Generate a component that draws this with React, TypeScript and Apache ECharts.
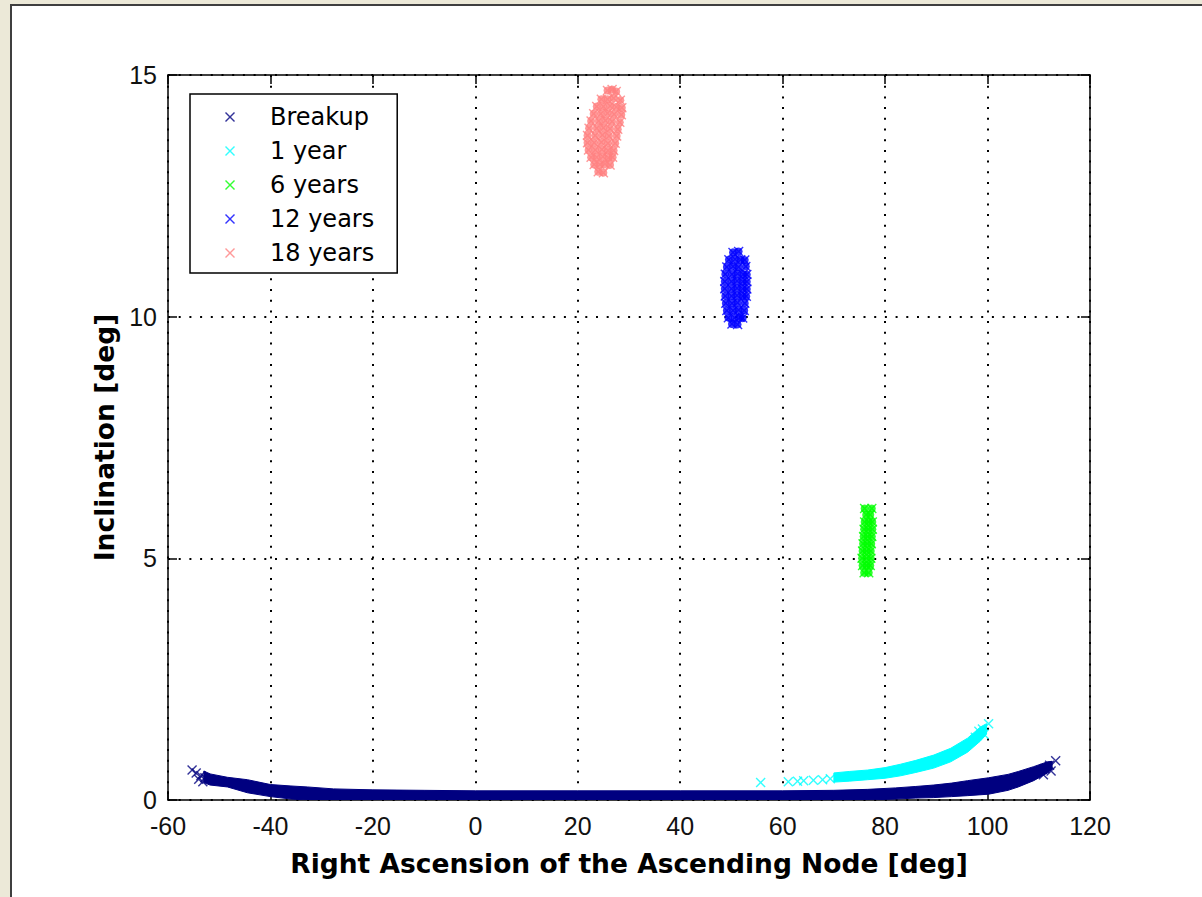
import React, { useEffect, useRef } from "react";
import * as echarts from "echarts";

// ---- axes / labels ----
const xMin = -60;
const xMax = 120;
const xStep = 20;
const yMin = 0;
const yMax = 15;
const yStep = 5;
const xTitle = "Right Ascension of the Ascending Node [deg]";
const yTitle = "Inclination [deg]";

const seriesNames = ["Breakup", "1 year", "6 years", "12 years", "18 years"];
const seriesColors = ["#000080", "#00FFFF", "#00FF00", "#0000FF", "#FF8080"];

// ---- Breakup: dense band of points (outer edges) + individual markers ----
const breakupBandX = [-53, -51.8, -48.4, -44.5, -40, -36, -32.8, -27.7, -20, -10, 0, 20, 40, 60, 70, 76.6, 82, 86, 89.5, 93, 96.1, 100.2, 104, 106, 109, 111.7, 112.6];
const breakupBandTop = [0.6, 0.54, 0.47, 0.42, 0.32, 0.29, 0.27, 0.23, 0.21, 0.2, 0.19, 0.19, 0.19, 0.19, 0.2, 0.22, 0.25, 0.28, 0.31, 0.35, 0.4, 0.46, 0.53, 0.59, 0.69, 0.79, 0.8];
const breakupBandLow = [0.36, 0.31, 0.27, 0.15, 0.07, 0.02, 0, 0, 0, 0, 0, 0, 0, 0, 0, 0, 0.02, 0.04, 0.05, 0.07, 0.09, 0.12, 0.2, 0.27, 0.4, 0.56, 0.64];
const breakupPoints = [
  [-55.3, 0.62], [-54.5, 0.56], [-53.6, 0.5], [-54.0, 0.43], [-52.8, 0.46], [-53.2, 0.38],
  [113.3, 0.81], [112.1, 0.72], [111.2, 0.65], [112.4, 0.6], [110.9, 0.52],
];

// ---- 1 year ----
const year1BandX = [70, 73, 76.6, 80, 83, 86, 89.5, 92.8, 96.1, 98.6, 99.8];
const year1BandTop = [0.56, 0.59, 0.62, 0.67, 0.74, 0.82, 0.93, 1.07, 1.28, 1.51, 1.58];
const year1BandLow = [0.37, 0.39, 0.42, 0.45, 0.5, 0.57, 0.66, 0.79, 0.99, 1.22, 1.36];
const year1Points = [
  [55.7, 0.36], [61.1, 0.38], [62.9, 0.39], [64.1, 0.4], [66.0, 0.41], [67.8, 0.42], [69.3, 0.44],
  [100.2, 1.58], [99.0, 1.47], [98.3, 1.42], [99.3, 1.36], [97.6, 1.3],
];

// ---- 6 years ----
const years6Points = [
  [76.0, 6.03], [77.4, 6.03],
  [76.3, 5.9], [77.1, 5.9],
  [76.0, 5.75], [76.8, 5.75], [77.5, 5.75],
  [75.9, 5.6], [76.7, 5.6], [77.5, 5.6],
  [75.8, 5.45], [76.6, 5.45], [77.4, 5.45],
  [75.7, 5.3], [76.5, 5.3], [77.3, 5.3],
  [75.6, 5.15], [76.4, 5.15], [77.2, 5.15],
  [75.5, 5.0], [76.4, 5.0], [77.2, 5.0],
  [75.6, 4.85], [76.4, 4.85], [77.1, 4.85],
  [75.9, 4.7], [76.8, 4.7],
];

// ---- 12 years ----
const years12Points = [
  [50.3, 11.33], [51.4, 11.35],
  [49.5, 11.18], [50.7, 11.19], [51.8, 11.18], [52.6, 11.17],
  [49.1, 11.03], [50.3, 11.04], [51.4, 11.03], [52.8, 11.04],
  [48.8, 10.88], [50.1, 10.88], [51.2, 10.89], [52.3, 10.88], [53.0, 10.87],
  [48.7, 10.73], [50.0, 10.73], [51.1, 10.74], [52.2, 10.73], [53.0, 10.72],
  [48.7, 10.58], [50.0, 10.58], [51.1, 10.59], [52.2, 10.58], [53.0, 10.57],
  [48.8, 10.43], [50.0, 10.43], [51.1, 10.44], [52.2, 10.43], [52.9, 10.42],
  [48.9, 10.28], [50.1, 10.28], [51.2, 10.29], [52.6, 10.28],
  [49.1, 10.13], [50.3, 10.13], [51.4, 10.14], [52.5, 10.13],
  [49.4, 9.98], [50.6, 9.98], [51.7, 9.99], [52.2, 9.97],
  [50.1, 9.85], [51.2, 9.84],
];

// ---- 18 years ----
const years18Points = [
  [25.8, 14.68], [26.7, 14.7], [27.5, 14.66],
  [24.6, 14.5], [25.8, 14.5], [27.0, 14.52], [28.3, 14.48],
  [23.7, 14.35], [25.0, 14.35], [26.3, 14.36], [27.5, 14.34], [28.6, 14.32],
  [23.1, 14.2], [24.5, 14.2], [25.8, 14.21], [27.1, 14.19], [28.5, 14.18],
  [22.6, 14.05], [24.1, 14.05], [25.4, 14.06], [26.7, 14.04], [28.2, 14.02],
  [22.2, 13.9], [23.7, 13.9], [25.0, 13.91], [26.3, 13.89], [27.8, 13.88],
  [21.9, 13.75], [23.4, 13.75], [24.8, 13.76], [26.1, 13.74], [27.6, 13.74],
  [21.9, 13.6], [23.2, 13.6], [24.6, 13.61], [25.9, 13.59], [27.3, 13.59],
  [22.1, 13.45], [23.4, 13.45], [24.7, 13.46], [25.9, 13.44], [27.0, 13.44],
  [22.6, 13.3], [23.7, 13.3], [24.9, 13.31], [26.0, 13.29], [26.8, 13.3],
  [23.2, 13.15], [24.3, 13.15], [25.3, 13.16], [26.3, 13.14],
  [24.0, 13.0], [25.0, 12.98],
];

const X_PATH = "path://M0,1L1,0L5,4L9,0L10,1L6,5L10,9L9,10L5,6L1,10L0,9L4,5Z";

function markerSeries(name: string, color: string, data: number[][]) {
  return {
    type: "scatter",
    name,
    data,
    symbol: X_PATH,
    symbolSize: 10,
    itemStyle: { color },
    silent: true,
    z: 4,
  };
}

function fillSeries(name: string, color: string, data: number[][]) {
  return {
    type: "scatter",
    name,
    data,
    symbol: "circle",
    symbolSize: 8,
    itemStyle: { color },
    silent: true,
    z: 3,
  };
}

function bandSeries(name: string, color: string, xs: number[], tops: number[], lows: number[]) {
  return {
    type: "custom",
    name,
    coordinateSystem: "cartesian2d",
    data: [[xs[0], tops[0]]],
    clip: true,
    silent: true,
    z: 3,
    renderItem: (_params: any, api: any) => {
      const pts: number[][] = [];
      for (let i = 0; i < xs.length; i++) pts.push(api.coord([xs[i], tops[i]]));
      for (let i = xs.length - 1; i >= 0; i--) pts.push(api.coord([xs[i], lows[i]]));
      return {
        type: "polygon",
        shape: { points: pts },
        style: { fill: color, stroke: color, lineWidth: 1 },
      };
    },
  };
}

const gridDots = { type: [2, 8.7], color: "#000", width: 2 };
const axisLineStyle = { color: "#000", width: 1.5 };
const tickStyle = { color: "#000", width: 1.5 };
const tickFont = { fontFamily: "Liberation Sans", fontSize: 25, color: "#111" };
const titleFont = { fontFamily: "DejaVu Sans", fontWeight: "bold", fontSize: 26.5, color: "#000" };

function buildOption() {
  return {
    animation: false,
    backgroundColor: "transparent",
    grid: { left: 168, right: 112, top: 75, bottom: 97, containLabel: false, outerBoundsMode: "none" },
    legend: {
      orient: "vertical",
      left: 190,
      top: 94,
      padding: [11, 23, 8, 35],
      itemWidth: 10,
      itemHeight: 10,
      itemGap: 10,
      backgroundColor: "#fff",
      borderColor: "#000",
      borderWidth: 1.5,
      borderRadius: 0,
      selectedMode: false,
      textStyle: { fontFamily: "DejaVu Sans", fontSize: 24, color: "#000", lineHeight: 24, padding: [0, 0, 0, 30] },
      data: seriesNames.map((n) => ({ name: n, icon: X_PATH })),
      z: 10,
    },
    xAxis: [
      {
        type: "value",
        position: "bottom",
        min: xMin,
        max: xMax,
        interval: xStep,
        name: xTitle,
        nameLocation: "middle",
        nameGap: 50,
        nameTextStyle: titleFont,
        axisLine: { show: true, onZero: false, lineStyle: axisLineStyle },
        axisTick: { show: true, inside: true, length: 9, lineStyle: tickStyle },
        axisLabel: { ...tickFont, margin: 13 },
        splitLine: { show: true, lineStyle: gridDots },
      },
      {
        type: "value",
        position: "top",
        min: xMin,
        max: xMax,
        interval: xStep,
        axisLine: { show: true, onZero: false, lineStyle: axisLineStyle },
        axisTick: { show: true, inside: true, length: 9, lineStyle: tickStyle },
        axisLabel: { show: false },
        splitLine: { show: false },
      },
    ],
    yAxis: [
      {
        type: "value",
        position: "left",
        min: yMin,
        max: yMax,
        interval: yStep,
        name: yTitle,
        nameLocation: "middle",
        nameGap: 44,
        nameTextStyle: titleFont,
        axisLine: { show: true, onZero: false, lineStyle: axisLineStyle },
        axisTick: { show: true, inside: true, length: 9, lineStyle: tickStyle },
        axisLabel: { ...tickFont, margin: 11 },
        splitLine: { show: true, lineStyle: gridDots },
      },
      {
        type: "value",
        position: "right",
        min: yMin,
        max: yMax,
        interval: yStep,
        axisLine: { show: true, onZero: false, lineStyle: axisLineStyle },
        axisTick: { show: true, inside: true, length: 9, lineStyle: tickStyle },
        axisLabel: { show: false },
        splitLine: { show: false },
      },
    ],
    series: [
      markerSeries(seriesNames[0], seriesColors[0], breakupPoints),
      markerSeries(seriesNames[1], seriesColors[1], year1Points),
      markerSeries(seriesNames[2], seriesColors[2], years6Points),
      markerSeries(seriesNames[3], seriesColors[3], years12Points),
      markerSeries(seriesNames[4], seriesColors[4], years18Points),
      bandSeries(seriesNames[0], seriesColors[0], breakupBandX, breakupBandTop, breakupBandLow),
      bandSeries(seriesNames[1], seriesColors[1], year1BandX, year1BandTop, year1BandLow),
      fillSeries(seriesNames[2], seriesColors[2], years6Points),
      fillSeries(seriesNames[3], seriesColors[3], years12Points),
      fillSeries(seriesNames[4], seriesColors[4], years18Points),
    ],
  };
}

export default function App() {
  const ref = useRef<HTMLDivElement>(null);
  useEffect(() => {
    if (!ref.current) return;
    const chart = echarts.init(ref.current, null, { renderer: "svg" });
    chart.setOption(buildOption() as any);
    return () => chart.dispose();
  }, []);
  return (
    <div style={{ position: "absolute", left: 0, top: 0, width: 1202, height: 897, background: "#ECE9D8", overflow: "hidden" }}>
      <div
        style={{
          position: "absolute",
          left: 10,
          top: 4,
          right: 0,
          bottom: 0,
          background: "#fff",
          borderLeft: "2px solid #3f3f3f",
          borderTop: "2px solid #3f3f3f",
        }}
      />
      <div ref={ref} style={{ position: "absolute", left: 0, top: 0, width: 1202, height: 897 }} />
    </div>
  );
}
